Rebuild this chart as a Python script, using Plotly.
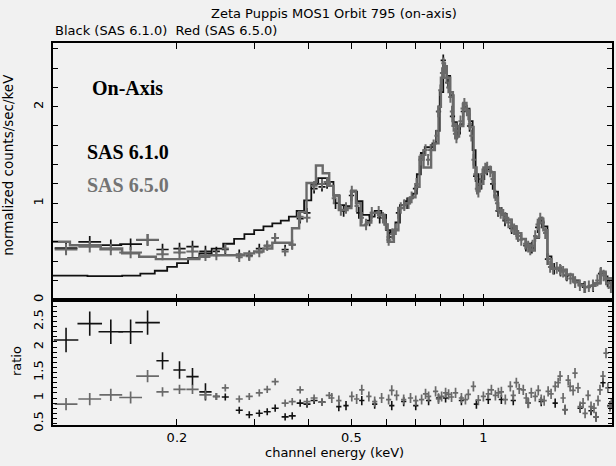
import math
import plotly.graph_objects as go
from plotly.subplots import make_subplots

# ---------------- data ----------------
# Top panel: folded models (step lines), keV -> normalized counts/sec/keV
black_model_E = [0.1043, 0.125, 0.15, 0.165, 0.178, 0.19, 0.2, 0.212, 0.225, 0.24, 0.255, 0.27, 0.285,
                 0.30, 0.315, 0.33, 0.345, 0.36, 0.375, 0.39, 0.405, 0.42, 0.44, 0.455, 0.47, 0.485, 0.50,
                 0.515, 0.53, 0.55, 0.565, 0.585, 0.60, 0.615, 0.63, 0.645, 0.66, 0.675, 0.69, 0.705, 0.72,
                 0.735, 0.75, 0.765, 0.78, 0.795, 0.81, 0.825, 0.84, 0.855, 0.87, 0.885, 0.90, 0.915, 0.93,
                 0.945, 0.96, 0.975, 0.99, 1.005, 1.02, 1.04, 1.06, 1.08, 1.10, 1.13, 1.16, 1.19, 1.22, 1.25,
                 1.28, 1.31, 1.34, 1.37, 1.40, 1.43, 1.47, 1.50, 1.55, 1.60, 1.65, 1.70, 1.75, 1.80, 1.85,
                 1.90, 1.965]
black_model_v = [0.25, 0.245, 0.25, 0.27, 0.30, 0.34, 0.38, 0.43, 0.48, 0.53, 0.58, 0.63, 0.68,
                 0.72, 0.76, 0.79, 0.82, 0.86, 0.92, 1.03, 1.20, 1.26, 1.22, 1.08, 0.98, 0.97, 1.12,
                 1.02, 0.88, 0.86, 0.92, 0.88, 0.72, 0.68, 0.80, 0.98, 1.02, 1.05, 1.10, 1.30, 1.52,
                 1.58, 1.58, 1.62, 1.75, 2.15, 2.42, 2.32, 2.12, 1.84, 1.72, 1.82, 2.00, 1.98, 1.85,
                 1.55, 1.30, 1.15, 1.25, 1.36, 1.37, 1.32, 1.12, 0.95, 0.89, 0.83, 0.76, 0.69, 0.63, 0.58,
                 0.53, 0.64, 0.82, 0.76, 0.45, 0.33, 0.33, 0.31, 0.26, 0.20, 0.16, 0.13, 0.14, 0.17, 0.28,
                 0.22, 0.13]

gray_model_E = [0.1043, 0.114, 0.134, 0.15, 0.164, 0.179, 0.225, 0.237, 0.285, 0.30, 0.315, 0.33, 0.366,
                0.38, 0.395, 0.415, 0.43, 0.445, 0.455, 0.468, 0.49, 0.50, 0.512, 0.525, 0.54, 0.555,
                0.575, 0.595, 0.605, 0.625, 0.64, 0.66, 0.68, 0.70, 0.715, 0.73, 0.745, 0.76, 0.775, 0.79,
                0.80, 0.812, 0.825, 0.84, 0.852, 0.865, 0.88, 0.90, 0.915, 0.93, 0.95, 0.965, 0.98, 1.0,
                1.02, 1.04, 1.06, 1.08, 1.10, 1.13, 1.16, 1.19, 1.22, 1.25, 1.28, 1.31, 1.34, 1.37, 1.40,
                1.43, 1.47, 1.50, 1.55, 1.60, 1.65, 1.70, 1.75, 1.80, 1.85, 1.90, 1.965]
gray_model_v = [0.60, 0.565, 0.53, 0.48, 0.445, 0.42, 0.445, 0.46, 0.48, 0.50, 0.53, 0.59, 0.74,
                0.91, 1.21, 1.39, 1.31, 1.18, 1.08, 0.93, 0.95, 1.13, 1.00, 0.77, 0.80, 0.90,
                0.88, 0.78, 0.60, 0.72, 0.95, 1.00, 1.06, 1.17, 1.48, 1.37, 1.37, 1.55, 1.62, 2.00,
                2.30, 2.42, 2.30, 2.15, 1.82, 1.69, 1.80, 2.04, 1.96, 1.79, 1.37, 1.13, 1.20, 1.37,
                1.37, 1.32, 1.06, 0.93, 0.88, 0.83, 0.76, 0.69, 0.63, 0.57, 0.51, 0.65, 0.84, 0.72, 0.42,
                0.32, 0.33, 0.31, 0.26, 0.19, 0.15, 0.13, 0.145, 0.17, 0.29, 0.22, 0.13]

# Top panel: data points (crosses)
black_data_E = [0.1117, 0.1265, 0.1413, 0.1568, 0.1714, 0.1854, 0.2027, 0.2170, 0.2323, 0.2460, 0.2578,
                0.2774, 0.2924, 0.3082, 0.3213, 0.3350, 0.3530, 0.3664, 0.3820, 0.3960, 0.4110, 0.4284,
                0.4400, 0.460, 0.480, 0.500, 0.520, 0.550, 0.580, 0.610, 0.640, 0.670, 0.700, 0.730,
                0.760, 0.790, 0.810, 0.830, 0.850, 0.870, 0.900, 0.930, 0.960, 0.990, 1.020, 1.050,
                1.080, 1.120, 1.160, 1.200, 1.250, 1.290, 1.330, 1.360, 1.400, 1.450, 1.500, 1.550,
                1.620, 1.700, 1.780, 1.850, 1.920]
black_data_v = [0.535, 0.60, 0.565, 0.575, 0.62, 0.52, 0.53, 0.55, 0.50, 0.50, 0.52,
                0.47, 0.46, 0.53, 0.56, 0.64, 0.52, 0.57, 0.84, 0.90, 1.15, 1.17,
                1.20, 1.00, 0.92, 1.08, 0.90, 0.82, 0.85, 0.65, 0.90, 1.00, 1.15, 1.50,
                1.55, 1.95, 2.48, 2.25, 1.90, 1.72, 1.95, 1.80, 1.28, 1.25, 1.35, 1.20,
                0.92, 0.82, 0.74, 0.66, 0.56, 0.54, 0.75, 0.80, 0.42, 0.32, 0.30, 0.25,
                0.18, 0.13, 0.14, 0.27, 0.19]

gray_data_E = [0.1117, 0.1265, 0.1413, 0.1568, 0.1714, 0.1854, 0.2027, 0.2170, 0.2323, 0.2460, 0.2578,
               0.2774, 0.2924, 0.3082, 0.3213, 0.3350, 0.3530, 0.3664, 0.3820, 0.3960, 0.4110, 0.4284,
               0.4400, 0.4560, 0.4730, 0.4860, 0.5010, 0.5140, 0.5280, 0.5400, 0.5565, 0.5770, 0.5900,
               0.5990, 0.6080, 0.6200, 0.6310, 0.6480, 0.6600, 0.6750, 0.6860, 0.7040, 0.7190, 0.7300,
               0.7380, 0.7480, 0.7580, 0.7700, 0.7820, 0.7900, 0.7980, 0.8050, 0.8110, 0.8180, 0.8240,
               0.8320, 0.8410, 0.8480, 0.8550, 0.8620, 0.8680, 0.8770, 0.8870, 0.8970, 0.9050, 0.9170,
               0.9240, 0.9320, 0.9390, 0.9500, 0.9590, 0.9670, 0.9740, 0.9850, 0.9950, 1.0100, 1.0200,
               1.0370, 1.0500, 1.0650, 1.0750, 1.0820, 1.0950, 1.1100, 1.1220, 1.1400, 1.1580, 1.1750,
               1.1900, 1.2010, 1.2200, 1.2460, 1.2650, 1.2790, 1.2950, 1.3130, 1.3300, 1.3480, 1.3650,
               1.3840, 1.4050, 1.4200, 1.4420, 1.4700, 1.4960, 1.5200, 1.5440, 1.5800, 1.6180, 1.6600,
               1.7060, 1.7400, 1.7780, 1.8200, 1.8540, 1.8800, 1.9040, 1.9300, 1.9540]
gray_data_v = [0.52, 0.55, 0.52, 0.49, 0.62, 0.47, 0.49, 0.50, 0.46, 0.46, 0.53,
               0.44, 0.45, 0.49, 0.56, 0.64, 0.50, 0.57, 0.86, 0.85, 1.18, 1.20,
               1.22, 1.05, 0.93, 0.95, 1.12, 0.97, 0.85, 0.78, 0.90, 0.91, 0.85,
               0.78, 0.62, 0.68, 0.73, 0.95, 0.98, 1.00, 1.06, 1.20, 1.45, 1.50,
               1.55, 1.45, 1.55, 1.60, 1.70, 1.95, 2.17, 2.35, 2.45, 2.40, 2.30,
               2.20, 2.10, 1.95, 1.80, 1.72, 1.68, 1.75, 1.85, 1.98, 2.03, 1.96,
               1.92, 1.82, 1.70, 1.45, 1.30, 1.15, 1.12, 1.20, 1.30, 1.36, 1.37,
               1.33, 1.25, 1.08, 1.00, 0.93, 0.90, 0.88, 0.85, 0.80, 0.76, 0.73,
               0.68, 0.66, 0.62, 0.58, 0.55, 0.52, 0.56, 0.66, 0.78, 0.84, 0.80,
               0.69, 0.42, 0.34, 0.32, 0.33, 0.31, 0.29, 0.26, 0.22, 0.18, 0.15,
               0.13, 0.14, 0.15, 0.20, 0.28, 0.25, 0.21, 0.17, 0.13]

# Bottom panel: data / model ratio
ratio_black_E = [0.1117, 0.1265, 0.1413, 0.1568, 0.1714, 0.1854, 0.2027, 0.2170, 0.2323, 0.2460, 0.2578,
                 0.2774, 0.2924, 0.3082, 0.3213, 0.3350, 0.3530, 0.3664, 0.3820, 0.3960, 0.4110, 0.4284,
                 0.468, 0.486, 0.528, 0.565, 0.618, 0.658, 0.701, 0.750, 0.790, 0.820, 0.891, 0.964,
                 1.026, 1.099, 1.170, 1.266, 1.355, 1.458, 1.536, 1.662, 1.760, 1.807, 1.874, 1.943]
ratio_black_v = [2.14, 2.46, 2.30, 2.30, 2.48, 1.73, 1.55, 1.42, 1.12, 1.03, 1.02,
                 0.76, 0.67, 0.70, 0.73, 0.80, 0.63, 0.65, 0.90, 0.88, 0.95, 0.92,
                 0.83, 0.85, 0.95, 0.88, 0.85, 0.93, 0.85, 0.95, 1.00, 1.00, 0.95, 0.88,
                 0.97, 0.97, 0.95, 0.90, 0.93, 0.90, 0.77, 0.80, 0.75, 0.63, 1.30, 0.85]

ratio_gray_E = [0.1117, 0.1265, 0.1413, 0.1568, 0.1714, 0.1854, 0.2027, 0.2170, 0.2323, 0.2460, 0.2578,
                0.2774, 0.2924, 0.3082, 0.3213, 0.3350, 0.3530, 0.3664, 0.3820, 0.3960, 0.4110, 0.4284,
                0.4450, 0.451, 0.468, 0.501, 0.514, 0.528, 0.548, 0.565, 0.586, 0.608, 0.618, 0.634,
                0.658, 0.682, 0.701, 0.723, 0.738, 0.750, 0.778, 0.790, 0.803, 0.820, 0.833, 0.846,
                0.864, 0.891, 0.910, 0.924, 0.949, 0.974, 1.000, 1.026, 1.043, 1.065, 1.082, 1.099,
                1.122, 1.152, 1.170, 1.189, 1.207, 1.233, 1.252, 1.266, 1.286, 1.313, 1.334, 1.355,
                1.376, 1.405, 1.427, 1.458, 1.481, 1.496, 1.520, 1.536, 1.561, 1.577, 1.602, 1.618,
                1.644, 1.662, 1.688, 1.706, 1.733, 1.760, 1.788, 1.807, 1.826, 1.845, 1.874, 1.904,
                1.923, 1.943, 1.958]
ratio_gray_v = [0.88, 0.98, 1.06, 1.01, 1.43, 1.12, 1.17, 1.17, 1.06, 1.03, 1.20,
                0.98, 1.03, 1.10, 1.17, 1.32, 0.90, 0.93, 1.16, 0.93, 1.00, 0.92,
                1.05, 1.00, 0.95, 1.03, 0.98, 1.16, 1.03, 0.93, 1.00, 0.97, 1.15, 1.05,
                0.97, 1.00, 0.95, 0.97, 1.08, 1.03, 1.13, 0.98, 1.03, 1.10, 1.07, 1.02,
                1.10, 1.00, 0.97, 1.07, 1.23, 0.96, 1.03, 1.08, 1.16, 1.05, 1.10, 1.12,
                0.97, 1.23, 1.05, 1.30, 1.18, 1.16, 1.00, 0.90, 1.10, 1.03, 1.15, 0.97,
                0.95, 1.13, 1.08, 1.23, 1.30, 1.43, 1.00, 0.77, 1.35, 1.23, 1.15, 1.49,
                1.20, 0.83, 0.90, 0.70, 1.05, 0.83, 0.80, 0.63, 0.95, 1.16, 1.43, 1.88,
                1.20, 0.83, 0.90]

x_tick_vals = [0.2, 0.3, 0.4, 0.5, 0.6, 0.7, 0.8, 0.9, 1]
x_tick_text = ["0.2", "", "", "0.5", "", "", "", "", "1"]
top_tick_vals = [0, 0.2, 0.4, 0.6, 0.8, 1, 1.2, 1.4, 1.6, 1.8, 2, 2.2, 2.4, 2.6]
top_tick_text = ["0", "", "", "", "", "1", "", "", "", "", "2", "", "", ""]
ratio_tick_vals = [0.5, 0.6, 0.7, 0.8, 0.9, 1, 1.1, 1.2, 1.3, 1.4, 1.5, 1.6, 1.7, 1.8, 1.9,
                   2, 2.1, 2.2, 2.3, 2.4, 2.5, 2.6, 2.7, 2.8, 2.9]
ratio_tick_text = ["0.5", "", "", "", "", "1", "", "", "", "", "1.5", "", "", "", "",
                   "2", "", "", "", "", "2.5", "", "", "", ""]

# ---------------- styling helpers ----------------
BLACK = "#111111"
GRAY = "#6a6a6a"
BG = "#f1f1f1"
FONT = "DejaVu Sans"
CLEAR = "rgba(0,0,0,0)"


def widths(n, groups):
    """Half bin widths (in decades) per point: wide low-energy bins, narrow dense bins."""
    out = []
    for count, w in groups:
        out += [w] * count
    out += [groups[-1][1]] * (n - len(out))
    return out[:n]


def xerr(E, hw):
    plus = [e * (10 ** h - 1) for e, h in zip(E, hw)]
    minus = [e * (1 - 10 ** (-h)) for e, h in zip(E, hw)]
    return plus, minus


def cross_trace(E, v, hw, yerr, color, thick):
    p, m = xerr(E, hw)
    return go.Scatter(
        x=E, y=v, mode="markers", marker=dict(size=1, color=CLEAR, line=dict(width=0)),
        error_x=dict(type="data", symmetric=False, array=p, arrayminus=m,
                     color=color, thickness=thick, width=0),
        error_y=dict(type="data", array=yerr, color=color, thickness=thick, width=0),
        showlegend=False, hoverinfo="skip")


fig = make_subplots(rows=2, cols=1, shared_xaxes=True, vertical_spacing=0,
                    row_heights=[0.672, 0.328])

# --- top panel ---
fig.add_trace(go.Scatter(x=black_model_E, y=black_model_v, mode="lines", line_shape="hv",
                         line=dict(color=BLACK, width=1.8), showlegend=False), row=1, col=1)
hw_bd = widths(len(black_data_E), [(5, 0.026), (4, 0.014), (14, 0.008), (1, 0.006)])
ye_bd = widths(len(black_data_E), [(9, 0.06), (14, 0.05), (1, 0.06)])
fig.add_trace(cross_trace(black_data_E, black_data_v, hw_bd, ye_bd, BLACK, 1.7), row=1, col=1)

fig.add_trace(go.Scatter(x=gray_model_E, y=gray_model_v, mode="lines", line_shape="hv",
                         line=dict(color=GRAY, width=2.4), showlegend=False), row=1, col=1)
hw_gd = widths(len(gray_data_E), [(5, 0.026), (4, 0.014), (14, 0.008), (1, 0.005)])
ye_gd = widths(len(gray_data_E), [(9, 0.06), (14, 0.05), (1, 0.06)])
fig.add_trace(cross_trace(gray_data_E, gray_data_v, hw_gd, ye_gd, GRAY, 2.0), row=1, col=1)

# --- ratio panel ---
fig.add_hline(y=1, line=dict(color=BLACK, width=1.3, dash="8px,12px"), layer="below", row=2, col=1)
hw_rb = widths(len(ratio_black_E), [(5, 0.028), (4, 0.014), (13, 0.008), (1, 0.006)])
ye_rb = widths(len(ratio_black_E), [(5, 0.24), (4, 0.17), (13, 0.07), (1, 0.09)])
fig.add_trace(cross_trace(ratio_black_E, ratio_black_v, hw_rb, ye_rb, BLACK, 1.6), row=2, col=1)
hw_rg = widths(len(ratio_gray_E), [(5, 0.026), (4, 0.014), (14, 0.008), (1, 0.006)])
ye_rg = widths(len(ratio_gray_E), [(5, 0.12), (4, 0.09), (14, 0.07), (1, 0.10)])
fig.add_trace(cross_trace(ratio_gray_E, ratio_gray_v, hw_rg, ye_rg, GRAY, 1.7), row=2, col=1)

# ---------------- axes ----------------
xcommon = dict(type="log", range=[math.log10(0.1043), math.log10(1.965)],
               showgrid=False, zeroline=False, showline=True, linecolor="black", linewidth=1.6,
               mirror="allticks", ticks="inside", tickmode="array", tickvals=x_tick_vals,
               ticktext=x_tick_text, ticklen=6, tickwidth=1.3, tickcolor="black",
               tickfont=dict(family=FONT, size=13, color="black"))
fig.update_xaxes(**xcommon)
fig.update_xaxes(showticklabels=False, row=1, col=1)
fig.update_xaxes(showticklabels=True, row=2, col=1)

ycommon = dict(showgrid=False, zeroline=False, showline=True, linecolor="black", linewidth=1.6,
               mirror="allticks", ticks="inside", ticklen=5, tickwidth=1.2, tickcolor="black",
               tickangle=-90, tickfont=dict(family=FONT, size=13, color="black"),
               ticklabelstandoff=3, tickmode="array")
fig.update_yaxes(**ycommon)
fig.update_yaxes(range=[0, 2.66], tickvals=top_tick_vals, ticktext=top_tick_text, row=1, col=1)
fig.update_yaxes(range=[0.47, 2.93], tickvals=ratio_tick_vals, ticktext=ratio_tick_text,
                 ticklen=4, row=2, col=1)

# ---------------- texts ----------------
ann = [
    dict(text="Zeta Puppis MOS1 Orbit 795 (on-axis)", x=0.5027, y=1.0785, xanchor="center",
         yanchor="middle", font=dict(family=FONT, size=13, color="black")),
    dict(text="Black (SAS 6.1.0)  Red (SAS 6.5.0)", x=0.0, y=1.034, xanchor="left",
         yanchor="middle", font=dict(family=FONT, size=13, color="black")),
    dict(text="<b>On-Axis</b>", x=0.066, y=0.882, xanchor="left", yanchor="middle",
         font=dict(family="Liberation Serif", size=20, color="black")),
    dict(text="<b>SAS 6.1.0</b>", x=0.057, y=0.7147, xanchor="left", yanchor="middle",
         font=dict(family="Liberation Serif", size=20, color="black")),
    dict(text="<b>SAS 6.5.0</b>", x=0.057, y=0.628, xanchor="left", yanchor="middle",
         font=dict(family="Liberation Serif", size=20, color="#737373")),
    dict(text="channel energy (keV)", x=0.5027, y=-0.073, xanchor="center", yanchor="middle",
         font=dict(family=FONT, size=13, color="black")),
    dict(text="normalized counts/sec/keV", x=-0.080, y=0.682, xanchor="center", yanchor="middle",
         textangle=-90, font=dict(family=FONT, size=13.5, color="black")),
    dict(text="ratio", x=-0.066, y=0.1675, xanchor="center", yanchor="middle",
         textangle=-90, font=dict(family=FONT, size=13, color="black")),
]
for a in ann:
    fig.add_annotation(xref="paper", yref="paper", showarrow=False, **a)

fig.update_layout(width=616, height=466, margin=dict(l=53, r=2, t=43, b=41),
                  paper_bgcolor=BG, plot_bgcolor=BG, showlegend=False)

fig.write_html("out.html")
